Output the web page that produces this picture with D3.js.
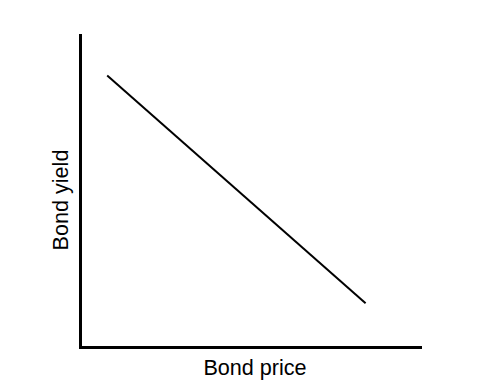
<!DOCTYPE html>
<html><head><meta charset="utf-8">
<script src="https://cdn.jsdelivr.net/npm/d3@7"></script>
<style>body{margin:0;background:#fff}svg{display:block}</style>
</head><body>
<svg id="c" width="500" height="383"></svg>
<script>
const priceValues = [0.8, 8.4];
const yieldValues = [8.7, 1.4];
const xLabel = "Bond price";
const yLabel = "Bond yield";

const svg = d3.select("#c");
const x = d3.scaleLinear().domain([0, 10]).range([80, 420]);
const y = d3.scaleLinear().domain([0, 10]).range([347, 35]);

const xAxis = svg.append("g").attr("transform", `translate(0,${y(0)})`)
  .call(d3.axisBottom(x).tickValues([]).tickSizeOuter(0));
const yAxis = svg.append("g").attr("transform", `translate(${x(0)},0)`)
  .call(d3.axisLeft(y).tickValues([]).tickSizeOuter(0));
[xAxis, yAxis].forEach(g => g.select(".domain")
  .attr("stroke", "#000").attr("stroke-width", 3).attr("stroke-linecap", "square"));

const pts = priceValues.map((p, i) => [p, yieldValues[i]]);
svg.append("path").datum(pts)
  .attr("d", d3.line().x(d => x(d[0])).y(d => y(d[1])))
  .attr("fill", "none").attr("stroke", "#000").attr("stroke-width", 2);

svg.append("text").attr("x", 255).attr("y", 375)
  .attr("text-anchor", "middle")
  .attr("font-family", "Liberation Sans, Arial, sans-serif")
  .attr("font-size", 21.6).text(xLabel);

svg.append("text").attr("transform", "translate(68,200) rotate(-90)")
  .attr("text-anchor", "middle")
  .attr("font-family", "Liberation Sans, Arial, sans-serif")
  .attr("font-size", 21.6).text(yLabel);
</script>
</body></html>
